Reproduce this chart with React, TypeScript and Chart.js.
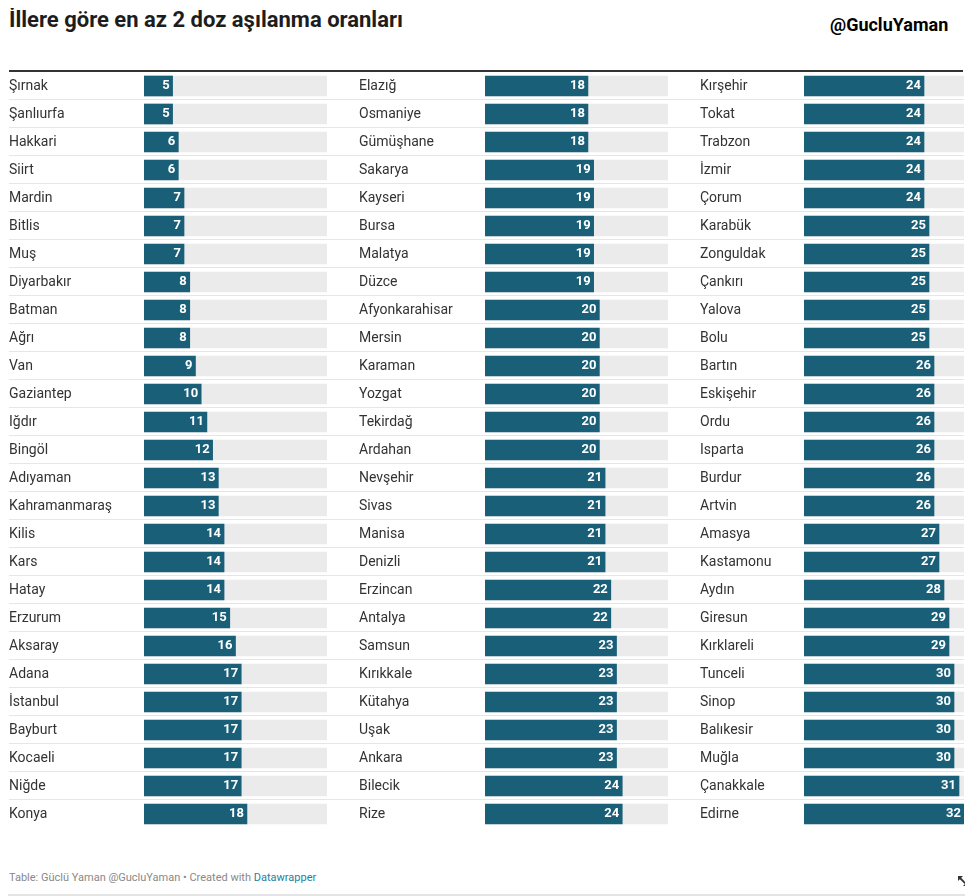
import React, { useEffect, useRef } from "react";
import { Chart, registerables } from "chart.js";

Chart.register(...registerables);

// ---------- DATA ----------
const MAX_VALUE = 32;

const col1Names = [
  "Şırnak", "Şanlıurfa", "Hakkari", "Siirt", "Mardin", "Bitlis", "Muş", "Diyarbakır", "Batman",
  "Ağrı", "Van", "Gaziantep", "Iğdır", "Bingöl", "Adıyaman", "Kahramanmaraş", "Kilis", "Kars",
  "Hatay", "Erzurum", "Aksaray", "Adana", "İstanbul", "Bayburt", "Kocaeli", "Niğde", "Konya",
];
const col1Values = [5, 5, 6, 6, 7, 7, 7, 8, 8, 8, 9, 10, 11, 12, 13, 13, 14, 14, 14, 15, 16, 17, 17, 17, 17, 17, 18];

const col2Names = [
  "Elazığ", "Osmaniye", "Gümüşhane", "Sakarya", "Kayseri", "Bursa", "Malatya", "Düzce",
  "Afyonkarahisar", "Mersin", "Karaman", "Yozgat", "Tekirdağ", "Ardahan", "Nevşehir", "Sivas",
  "Manisa", "Denizli", "Erzincan", "Antalya", "Samsun", "Kırıkkale", "Kütahya", "Uşak", "Ankara",
  "Bilecik", "Rize",
];
const col2Values = [18, 18, 18, 19, 19, 19, 19, 19, 20, 20, 20, 20, 20, 20, 21, 21, 21, 21, 22, 22, 23, 23, 23, 23, 23, 24, 24];

const col3Names = [
  "Kırşehir", "Tokat", "Trabzon", "İzmir", "Çorum", "Karabük", "Zonguldak", "Çankırı", "Yalova",
  "Bolu", "Bartın", "Eskişehir", "Ordu", "Isparta", "Burdur", "Artvin", "Amasya", "Kastamonu",
  "Aydın", "Giresun", "Kırklareli", "Tunceli", "Sinop", "Balıkesir", "Muğla", "Çanakkale", "Edirne",
];
const col3Values = [24, 24, 24, 24, 24, 25, 25, 25, 25, 25, 26, 26, 26, 26, 26, 26, 27, 27, 28, 29, 29, 30, 30, 30, 30, 31, 32];

const TITLE = "İllere göre en az 2 doz aşılanma oranları";
const HANDLE = "@GucluYaman";
const FOOTER_TEXT = "Table: Güclü Yaman @GucluYaman • Created with ";
const FOOTER_LINK = "Datawrapper";

// ---------- STYLE ----------
const FONT = "Roboto, 'Noto Sans', Arial, sans-serif";
const BAR_COLOR = "#1a5f78";
const TRACK_COLOR = "#ebebeb";
const LABEL_COLOR = "#333333";
const SEP_COLOR = "#e6e6e6";

const valueLabelPlugin = {
  id: "valueLabels",
  afterDatasetsDraw(chart: any) {
    const meta = chart.getDatasetMeta(0);
    const values = chart.data.datasets[0].data;
    const ctx = chart.ctx;
    ctx.save();
    ctx.fillStyle = "#ffffff";
    ctx.font = `bold 13px ${FONT}`;
    ctx.textAlign = "right";
    ctx.textBaseline = "middle";
    meta.data.forEach((bar: any, i: number) => {
      ctx.fillText(String(values[i]), bar.x - 3, bar.y);
    });
    ctx.restore();
  },
};

const separatorPlugin = {
  id: "rowSeparators",
  beforeDatasetsDraw(chart: any) {
    const y = chart.scales.y;
    const ctx = chart.ctx;
    const n = y.ticks.length;
    ctx.save();
    ctx.strokeStyle = SEP_COLOR;
    ctx.lineWidth = 1;
    for (let i = 0; i < n - 1; i++) {
      const b = (y.getPixelForTick(i) + y.getPixelForTick(i + 1)) / 2;
      const py = Math.round(b) - 0.5;
      ctx.beginPath();
      ctx.moveTo(0, py);
      ctx.lineTo(chart.width, py);
      ctx.stroke();
    }
    ctx.restore();
  },
};

type ColProps = {
  names: string[];
  values: number[];
  width: number;
  axisWidth: number;
  padLeft: number;
  padRight: number;
  left: number;
};

const ROW_H = 28;
const CHART_TOP = 64; // page y 72 minus body margin 8

function BarColumn({ names, values, width, axisWidth, padLeft, padRight, left }: ColProps) {
  const ref = useRef<HTMLCanvasElement | null>(null);
  const height = names.length * ROW_H;
  useEffect(() => {
    if (!ref.current) return;
    const chart = new Chart(ref.current, {
      type: "bar",
      data: {
        labels: names,
        datasets: [
          {
            data: values,
            backgroundColor: BAR_COLOR,
            order: 0,
            grouped: false,
            barThickness: 20,
          } as any,
          {
            data: names.map(() => MAX_VALUE),
            backgroundColor: TRACK_COLOR,
            order: 1,
            grouped: false,
            barThickness: 20,
          } as any,
        ],
      },
      options: {
        indexAxis: "y",
        animation: false,
        responsive: false,
        maintainAspectRatio: false,
        events: [],
        layout: { padding: { left: padLeft, right: padRight, top: 0, bottom: 0 } },
        plugins: { legend: { display: false }, tooltip: { enabled: false } },
        scales: {
          x: { display: false, min: 0, max: MAX_VALUE },
          y: {
            grid: { display: false },
            border: { display: false },
            afterFit: (scale: any) => {
              scale.width = axisWidth;
              scale.paddingTop = 0;
              scale.paddingBottom = 0;
            },
            ticks: {
              autoSkip: false,
              crossAlign: "far",
              color: LABEL_COLOR,
              font: { family: FONT, size: 14 },
              padding: 0,
            },
          },
        },
      },
      plugins: [separatorPlugin, valueLabelPlugin],
    });
    return () => chart.destroy();
  }, []);
  return (
    <canvas
      ref={ref}
      width={width}
      height={height}
      style={{ position: "absolute", left, top: CHART_TOP, width, height }}
    />
  );
}

export default function App() {
  return (
    <div style={{ position: "relative", width: 957, height: 888, fontFamily: FONT, background: "#fff" }}>
      <div
        style={{
          position: "absolute",
          left: 1,
          top: 1,
          fontSize: 22,
          lineHeight: "22px",
          fontWeight: 700,
          color: "#1d1d1d",
          whiteSpace: "nowrap",
        }}
      >
        {TITLE}
      </div>
      <div
        style={{
          position: "absolute",
          left: 822,
          top: 8,
          fontSize: 18,
          lineHeight: "18px",
          fontWeight: 700,
          color: "#000",
          whiteSpace: "nowrap",
        }}
      >
        {HANDLE}
      </div>
      <div style={{ position: "absolute", left: 1, top: 62, width: 954, height: 2, background: "#333" }} />
      <BarColumn names={col1Names} values={col1Values} left={1} width={340} axisWidth={135} padLeft={0} padRight={22} />
      <BarColumn names={col2Names} values={col2Values} left={341} width={341} axisWidth={126} padLeft={10} padRight={22} />
      <BarColumn names={col3Names} values={col3Values} left={682} width={274} axisWidth={104} padLeft={10} padRight={0} />
      <div
        style={{
          position: "absolute",
          left: 1,
          top: 863,
          fontSize: 11,
          lineHeight: "14px",
          color: "#888",
          whiteSpace: "nowrap",
        }}
      >
        {FOOTER_TEXT}
        <span style={{ color: "#1d81a2" }}>{FOOTER_LINK}</span>
      </div>
      <svg
        style={{ position: "absolute", left: 949, top: 867 }}
        width={12}
        height={12}
        viewBox="0 0 12 12"
      >
        <path d="M2.5 2.5 L9.5 9.5" stroke="#333" strokeWidth={1.8} />
        <path d="M1 1 L6 1 L1 6 Z" fill="#333" />
        <path d="M11 11 L6 11 L11 6 Z" fill="#333" />
      </svg>
      <div style={{ position: "absolute", left: -8, top: 886, width: 973, height: 2, background: "#e4e4e4" }} />
    </div>
  );
}
